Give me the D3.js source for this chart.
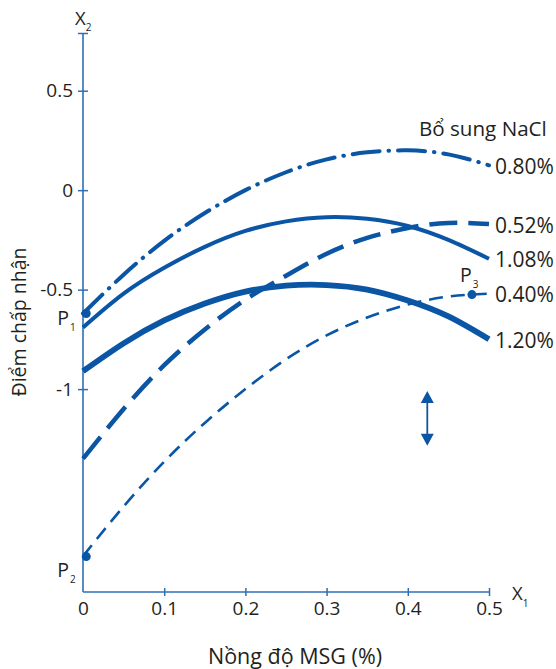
<!DOCTYPE html>
<html>
<head>
<meta charset="utf-8">
<script src="https://cdn.jsdelivr.net/npm/d3@7/dist/d3.min.js"></script>
<style>
  html, body { margin: 0; padding: 0; background: #fff; }
  svg { display: block; }
  text { font-family: "Open Sans", "Noto Sans", sans-serif; fill: #231f20; }
</style>
</head>
<body>
<svg id="chart" width="556" height="669"></svg>
<script>
// ---- data ----
const xValues = [0, 0.05, 0.1, 0.15, 0.2, 0.25, 0.3, 0.35, 0.4, 0.45, 0.5];
const seriesNames = ["0.80%", "0.52%", "1.08%", "0.40%", "1.20%"];
const v080 = [-0.62, -0.425, -0.255, -0.115, 0.0, 0.09, 0.155, 0.19, 0.20, 0.18, 0.125];
const v052 = [-1.35, -1.10, -0.88, -0.70, -0.55, -0.43, -0.32, -0.24, -0.19, -0.165, -0.17];
const v108 = [-0.69, -0.52, -0.39, -0.285, -0.205, -0.157, -0.136, -0.144, -0.18, -0.25, -0.345];
const v040 = [-1.84, -1.59, -1.365, -1.17, -1.0, -0.85, -0.73, -0.64, -0.575, -0.535, -0.52];
const v120 = [-0.91, -0.77, -0.655, -0.57, -0.51, -0.48, -0.477, -0.50, -0.555, -0.635, -0.75];
const xTicks = [0, 0.1, 0.2, 0.3, 0.4, 0.5];
const xTickLabels = ["0", "0.1", "0.2", "0.3", "0.4", "0.5"];
const yTicks = [0.5, 0, -0.5, -1];
const yTickLabels = ["0.5", "0", "-0.5", "-1"];
const pointNames = ["P1", "P2", "P3"];
const pointX = [0.004, 0.004, 0.479];
const pointY = [-0.62, -1.842, -0.525];
const arrowX = 0.424;
const arrowY = [-1.01, -1.285];
const xDomain = [0, 0.5];
const yDomain = [-2.02, 0.79];

// ---- styles per series ----
const styles = {
  "0.80%": { w: 4, dash: "27,9,0.5,9", cap: "round" },
  "0.52%": { w: 4.5, dash: "28,11", cap: "butt" },
  "1.08%": { w: 4, dash: null, cap: "butt" },
  "0.40%": { w: 2.6, dash: "14,8", cap: "butt" },
  "1.20%": { w: 5.8, dash: null, cap: "butt" }
};
const seriesValues = { "0.80%": v080, "0.52%": v052, "1.08%": v108, "0.40%": v040, "1.20%": v120 };

const blue = "#0a55a4";
const axisBlue = "#2f6fb6";

const svg = d3.select("#chart");
const x = d3.scaleLinear().domain(xDomain).range([83, 489]);
const y = d3.scaleLinear().domain(yDomain).range([592, 33]);

// ---- axes ----
const yAxis = svg.append("g").attr("transform", `translate(${x(0)},0)`)
  .call(d3.axisLeft(y).tickValues(yTicks.concat([yDomain[1]]))
    .tickFormat((d) => { const i = yTicks.indexOf(d); return i >= 0 ? yTickLabels[i] : ""; })
    .tickSize(5).tickPadding(5));
yAxis.select(".domain").attr("stroke", axisBlue).attr("stroke-width", 1.6).attr("d", `M0,${y(yDomain[0])}V${y(yDomain[1])}`);
yAxis.selectAll(".tick line").attr("stroke", axisBlue).attr("stroke-width", 1.5).attr("x1", -5).attr("x2", 5);
yAxis.selectAll(".tick text").attr("font-size", 19).attr("fill", "#231f20")
  .attr("font-family", "'Open Sans', sans-serif").attr("x", -10);

const xAxis = svg.append("g").attr("transform", `translate(0,${y(yDomain[0])})`)
  .call(d3.axisBottom(x).tickValues(xTicks)
    .tickFormat((d) => xTickLabels[xTicks.indexOf(d)]).tickSize(4).tickPadding(8));
xAxis.select(".domain").attr("stroke", axisBlue).attr("stroke-width", 1.6).attr("d", `M${x(0)},0H${x(0.5)}`);
xAxis.selectAll(".tick line").attr("stroke", axisBlue).attr("stroke-width", 1.5)
  .attr("y1", -4).attr("y2", 4).attr("display", (d) => d === 0 ? "none" : null);
xAxis.selectAll(".tick text").attr("font-size", 19).attr("fill", "#231f20")
  .attr("font-family", "'Open Sans', sans-serif").attr("y", 10);

// ---- curves ----
const line = d3.line().x((d) => x(d[0])).y((d) => y(d[1])).curve(d3.curveNatural);
seriesNames.forEach((name) => {
  const vals = seriesValues[name];
  const pts = xValues.map((xv, i) => [xv, vals[i]]);
  const st = styles[name];
  svg.append("path").datum(pts).attr("d", line)
    .attr("fill", "none").attr("stroke", blue).attr("stroke-width", st.w)
    .attr("stroke-linecap", st.cap)
    .attr("stroke-dasharray", st.dash);
  svg.append("text").attr("x", x(0.5) + 6).attr("y", y(vals[vals.length - 1]) + 1)
    .attr("dy", "0.36em").attr("font-size", 21).text(name);
});

// ---- legend title ----
svg.append("text").attr("x", 419).attr("y", 136).attr("font-size", 20.6).text("Bổ sung NaCl");

// ---- points P1,P2,P3 ----
pointNames.forEach((nm, i) => {
  const px = x(pointX[i]), py = y(pointY[i]);
  svg.append("circle").attr("cx", px).attr("cy", py).attr("r", 4.5).attr("fill", blue);
  const lbl = svg.append("text").attr("font-size", 19.5);
  if (i === 2) {
    lbl.attr("x", px - 12).attr("y", py - 13);
  } else {
    lbl.attr("x", px - 29).attr("y", py + (i === 0 ? 12 : 20));
  }
  lbl.append("tspan").text("P");
  lbl.append("tspan").attr("font-size", 10).attr("dx", 1).attr("dy", 6).text(nm.slice(1));
});

// ---- axis letters ----
const x2 = svg.append("text").attr("x", x(0) - 8).attr("y", y(yDomain[1]) - 8).attr("font-size", 18.5);
x2.append("tspan").text("X");
x2.append("tspan").attr("font-size", 10).attr("dy", 6).text("2");
const x1 = svg.append("text").attr("x", x(0.5) + 23).attr("y", y(yDomain[0]) + 8).attr("font-size", 18.5);
x1.append("tspan").text("X");
x1.append("tspan").attr("font-size", 10).attr("dy", 7).text("1");

// ---- axis titles ----
svg.append("text").attr("x", 295).attr("y", 664).attr("text-anchor", "middle")
  .attr("font-size", 21.5).text("Nồng độ MSG (%)");
svg.append("text").attr("transform", "translate(26,322) rotate(-90)")
  .attr("text-anchor", "middle").attr("font-size", 19.5).text("Điểm chấp nhận");

// ---- double arrow ----
const ax = x(arrowX), ayTop = y(arrowY[0]), ayBot = y(arrowY[1]);
svg.append("line").attr("x1", ax).attr("x2", ax).attr("y1", ayTop + 8).attr("y2", ayBot - 8)
  .attr("stroke", blue).attr("stroke-width", 1.8);
svg.append("path").attr("d", `M${ax},${ayTop}L${ax - 6.5},${ayTop + 12}L${ax + 6.5},${ayTop + 12}Z`).attr("fill", blue);
svg.append("path").attr("d", `M${ax},${ayBot}L${ax - 6.5},${ayBot - 12}L${ax + 6.5},${ayBot - 12}Z`).attr("fill", blue);
</script>
</body>
</html>
